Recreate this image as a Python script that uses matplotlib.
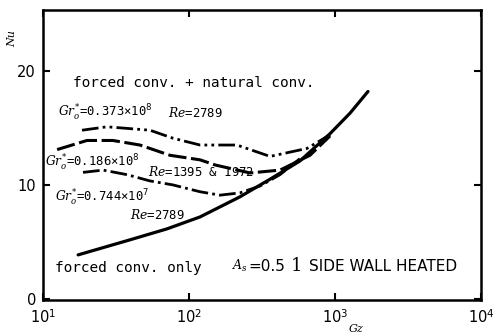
import matplotlib
matplotlib.use("Agg")
import matplotlib.pyplot as plt

plt.rcParams['mathtext.fontset'] = 'custom'
plt.rcParams['mathtext.rm'] = 'DejaVu Sans'
plt.rcParams['mathtext.it'] = 'DejaVu Serif:italic'

# forced conv. only
gz_forced = [17.4, 39.4, 70.6, 119, 223, 359, 575, 925, 1268, 1683]
nu_forced = [3.86, 5.18, 6.14, 7.19, 8.95, 10.5, 12.1, 14.5, 16.3, 18.2]

# Gr*=0.373e8, Re=2789
gz_a = [18.5, 27.4, 54, 77.6, 119, 213, 359, 643, 925]
nu_a = [14.8, 15.1, 14.8, 14.1, 13.5, 13.5, 12.5, 13.2, 14.4]

# Gr*=0.186e8, Re=1395 & 1972
gz_b = [12.5, 20, 30.1, 46.1, 74.1, 119, 151, 262, 420, 674, 925]
nu_b = [13.1, 13.9, 13.9, 13.5, 12.6, 12.2, 11.75, 11.05, 11.3, 12.6, 14.3]

# Gr*=0.744e7, Re=2789
gz_c = [18.8, 25.8, 37.6, 54, 77.6, 119, 163, 223, 306, 420, 575]
nu_c = [11.1, 11.3, 10.9, 10.35, 10.0, 9.4, 9.1, 9.3, 9.9, 10.9, 12.3]

fig = plt.figure(figsize=(4.97, 3.33), dpi=100)
ax = fig.add_axes([43 / 497, 1 - 300 / 333, 438 / 497, 290 / 333])

ax.plot(gz_forced, nu_forced, color='black', lw=2.3, solid_capstyle='round')
ax.plot(gz_a, nu_a, color='black', lw=2.0, dashes=[6, 1.5, 1, 1.5, 1, 1.5])
ax.plot(gz_b, nu_b, color='black', lw=2.2, dashes=[6, 1.5])
ax.plot(gz_c, nu_c, color='black', lw=2.0, dashes=[6, 1.5, 1, 1.5])

ax.set_xscale('log')
ax.set_xlim(10, 1e4)
ax.set_ylim(-0.1, 25.35)
ax.set_xticks([10, 100, 1000, 10000])
ax.set_xticklabels([r'$10^{1}$', r'$10^{2}$', r'$10^{3}$', r'$10^{4}$'])
ax.set_yticks([0, 10, 20])
ax.set_yticklabels(['0', '10', '20'])
ax.minorticks_off()
ax.tick_params(direction='in', length=5, width=1.5, labelsize=10.5, top=True, right=True)
ax.tick_params(axis='x', pad=6)
ax.tick_params(axis='y', pad=5)
for s in ax.spines.values():
    s.set_linewidth(1.8)

ax.text(-0.07, 0.9, 'Nu', transform=ax.transAxes, rotation=90, fontsize=8,
        family='DejaVu Serif', style='italic', ha='center', va='center')
ax.text(0.715, -0.1, 'Gz', transform=ax.transAxes, fontsize=8,
        family='DejaVu Serif', style='italic', ha='center', va='center')

mono = 'DejaVu Sans Mono'
ax.text(16.0, 18.9, 'forced conv. + natural conv.', family=mono, fontsize=10.4, va='center')
ax.text(12.7, 16.3, r'$Gr^{*}_{o}$=0.373×10$^{8}$', family=mono, fontsize=8.8, va='center')
ax.text(72, 16.3, r'$Re$=2789', family=mono, fontsize=8.8, va='center')
ax.text(10.3, 11.9, r'$Gr^{*}_{o}$=0.186×10$^{8}$', family=mono, fontsize=8.8, va='center')
ax.text(52, 11.1, r'$Re$=1395 & 1972', family=mono, fontsize=8.8, va='center')
ax.text(12.1, 8.85, r'$Gr^{*}_{o}$=0.744×10$^{7}$', family=mono, fontsize=8.8, va='center')
ax.text(39.4, 7.37, r'$Re$=2789', family=mono, fontsize=8.8, va='center')
ax.text(12.1, 2.72, 'forced conv. only', family=mono, fontsize=10.4, va='center')
ax.text(197, 2.85, r'$A_{s}$', fontsize=9, va='center')
ax.text(254, 2.85, '=0.5', family='DejaVu Sans', fontsize=11, va='center')
ax.text(500, 2.85, '1', family='DejaVu Serif', fontsize=13, va='center')
ax.text(660, 2.85, 'SIDE WALL HEATED', family='DejaVu Sans', fontsize=11, va='center')

fig.savefig('out.png', dpi=100)
